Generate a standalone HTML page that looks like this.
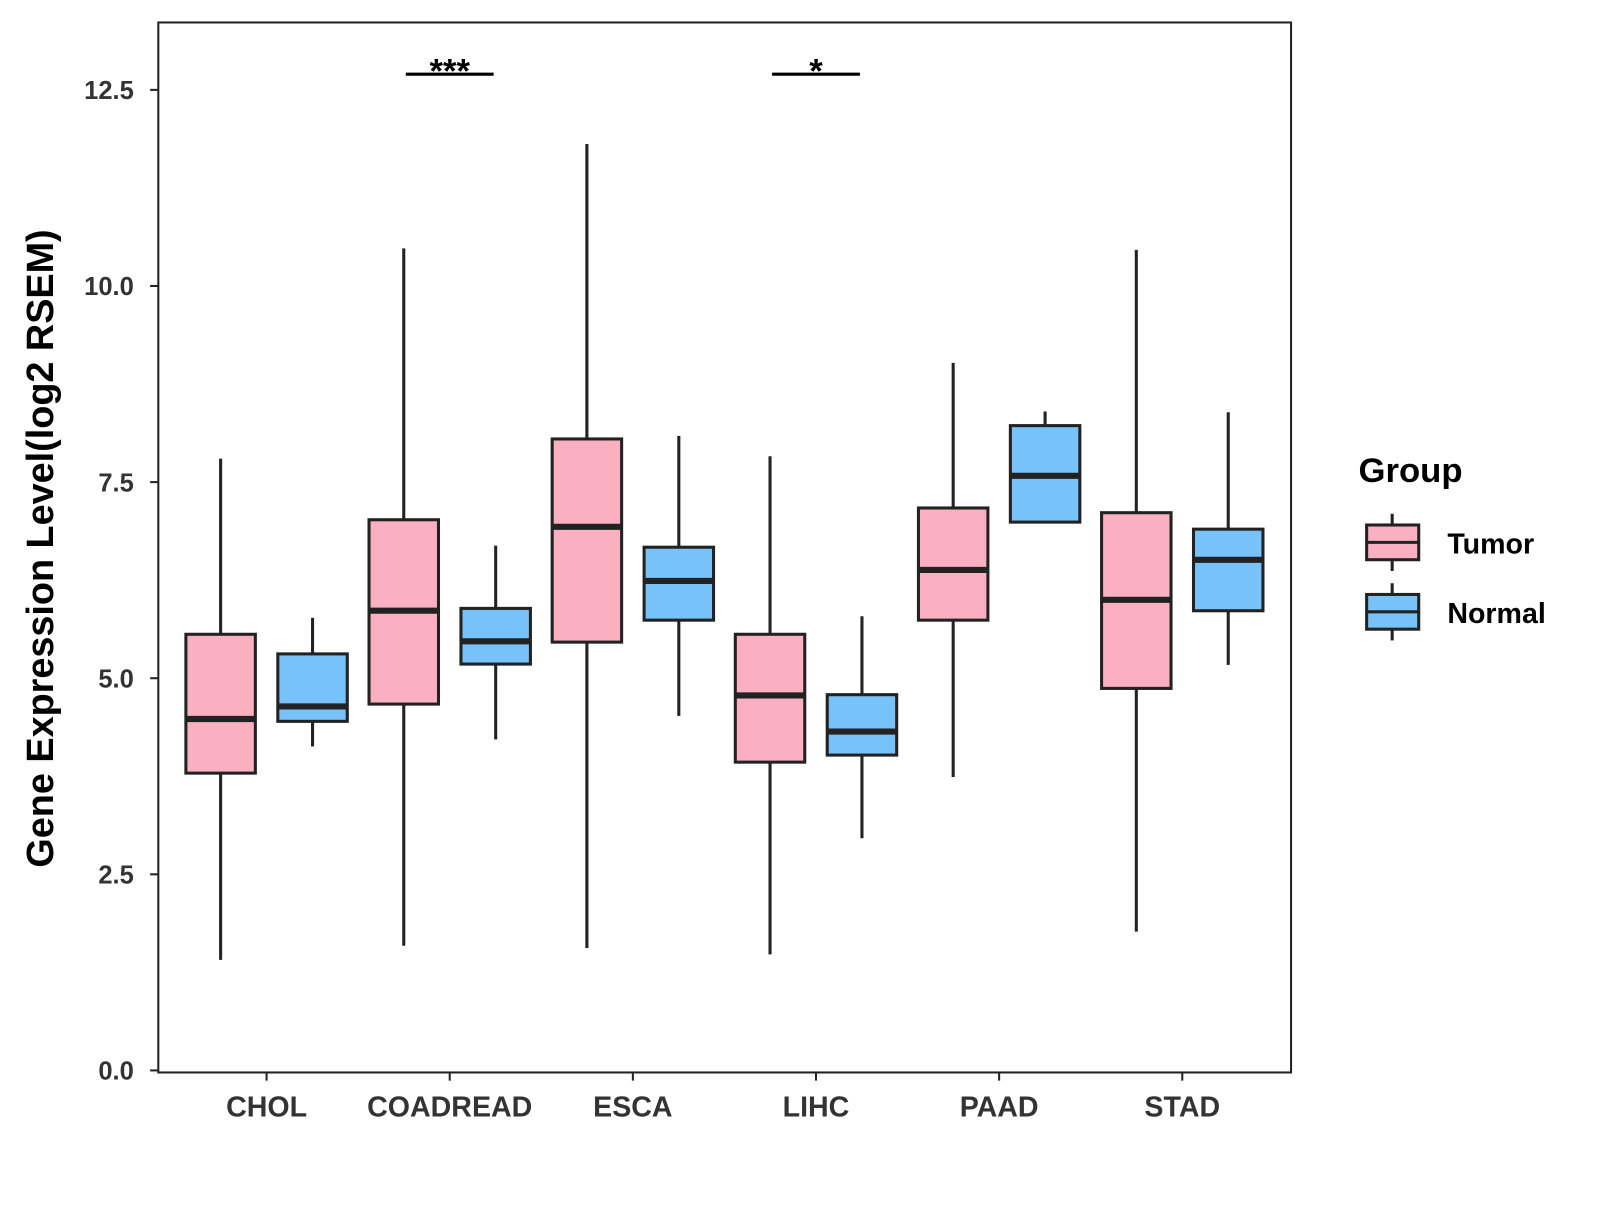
<!DOCTYPE html>
<html><head><meta charset="utf-8"><style>
body{margin:0;background:#fff;}
svg text{font-family:"Liberation Sans",Arial,sans-serif;font-weight:bold;}
</style></head><body>
<svg id="chart" width="1600" height="1200" xmlns="http://www.w3.org/2000/svg">
<g transform="scale(1.0214)">
<rect x="155" y="22" width="1109" height="1028" fill="#fff" stroke="#222" stroke-width="2"/>
<g id="marks"></g>
<text transform="translate(52,537) rotate(-90)" text-anchor="middle" font-size="37" fill="#000">Gene Expression Level(log2 RSEM)</text>
<g>
<text x="1330" y="472" font-size="34" fill="#000">Group</text>
<g>
<line x1="1363" y1="503" x2="1363" y2="559" stroke="#222" stroke-width="3"/>
<rect x="1338" y="514" width="51" height="34" fill="#FBB0C1" stroke="#222" stroke-width="3"/>
<line x1="1338" y1="531" x2="1389" y2="531" stroke="#222" stroke-width="3"/>
<text x="1417" y="542" font-size="28" fill="#000">Tumor</text></g>
<g>
<line x1="1363" y1="571" x2="1363" y2="627" stroke="#222" stroke-width="3"/>
<rect x="1338" y="582" width="51" height="34" fill="#77C2F8" stroke="#222" stroke-width="3"/>
<line x1="1338" y1="599" x2="1389" y2="599" stroke="#222" stroke-width="3"/>
<text x="1417" y="610" font-size="28" fill="#000">Normal</text></g>
</g>
</g>
</svg>
<script>
const categories=["CHOL","COADREAD","ESCA","LIHC","PAAD","STAD"];
const tumorLow=[1.41,1.59,1.56,1.48,3.74,1.77];
const tumorQ1=[3.79,4.67,5.46,3.93,5.74,4.87];
const tumorMed=[4.48,5.86,6.93,4.78,6.38,6.0];
const tumorQ3=[5.56,7.02,8.05,5.56,7.17,7.11];
const tumorHigh=[7.8,10.48,11.81,7.83,9.02,10.46];
const normalLow=[4.13,4.22,4.52,2.96,6.99,5.17];
const normalQ1=[4.45,5.18,5.74,4.02,6.99,5.86];
const normalMed=[4.64,5.47,6.24,4.32,7.58,6.51];
const normalQ3=[5.31,5.89,6.67,4.79,8.22,6.90];
const normalHigh=[5.77,6.69,8.09,5.79,8.40,8.39];
const yTicks=[0,2.5,5,7.5,10,12.5];
const yTickLabels=["0.0","2.5","5.0","7.5","10.0","12.5"];
const sigCategories=["COADREAD","LIHC"];
const sigLabels=["***","*"];
const sigValue=[12.7,12.7];

const NS="http://www.w3.org/2000/svg";
const g=document.getElementById("marks");
const y=v=>1048-v*76.8;
const x=i=>261+i*179.3;
function el(t,a,p){const e=document.createElementNS(NS,t);for(const k in a)e.setAttribute(k,a[k]);(p||g).appendChild(e);return e;}
yTicks.forEach((t,i)=>{
 const l=el("line",{x1:147,x2:155,y1:y(t),y2:y(t),stroke:"#222","stroke-width":2});
 
 
 const tx=el("text",{x:131,y:y(t)+9,"text-anchor":"end","font-size":25,fill:"#333"});
 tx.textContent=yTickLabels[i];
 
 
});
categories.forEach((c,i)=>{
 const l=el("line",{x1:x(i),x2:x(i),y1:1050,y2:1058,stroke:"#222","stroke-width":2});
 
 
 const tx=el("text",{x:x(i),y:1093,"text-anchor":"middle","font-size":28,fill:"#333"});
 tx.textContent=c;
 
 
});
function box(cx,lo,q1,md,q3,hi,fill,name){
 const gg=el("g",{});
 
 
 el("line",{x1:cx,x2:cx,y1:y(hi),y2:y(q3),stroke:"#222","stroke-width":3},gg);
 el("line",{x1:cx,x2:cx,y1:y(q1),y2:y(lo),stroke:"#222","stroke-width":3},gg);
 el("rect",{x:cx-34,y:y(q3),width:68,height:Math.max(y(q1)-y(q3),0.1),fill:fill,stroke:"#222","stroke-width":3},gg);
 el("line",{x1:cx-34,x2:cx+34,y1:y(md),y2:y(md),stroke:"#222","stroke-width":6},gg);
}
categories.forEach((c,i)=>{
 box(x(i)-45,tumorLow[i],tumorQ1[i],tumorMed[i],tumorQ3[i],tumorHigh[i],"#FBB0C1","box-tumor-"+c.toLowerCase());
 box(x(i)+45,normalLow[i],normalQ1[i],normalMed[i],normalQ3[i],normalHigh[i],"#77C2F8","box-normal-"+c.toLowerCase());
});
sigCategories.forEach((c,k)=>{
 const i=categories.indexOf(c);
 const l=el("line",{x1:x(i)-43,x2:x(i)+43,y1:y(sigValue[k]),y2:y(sigValue[k]),stroke:"#000","stroke-width":3});
 
 
 const t=el("text",{x:x(i),y:y(sigValue[k])+8,"text-anchor":"middle","font-size":34,fill:"#000"});
 t.textContent=sigLabels[k];
 
 
});
</script>
</body></html>
